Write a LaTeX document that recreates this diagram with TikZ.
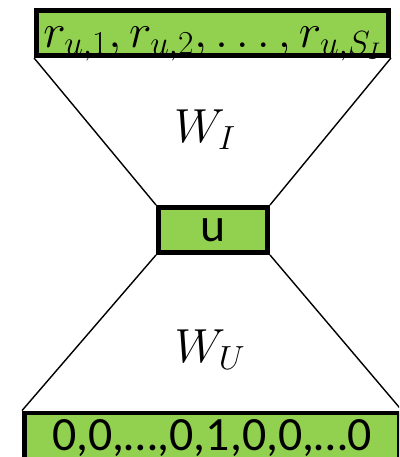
\RequirePackage{fix-cm}
\documentclass[tikz,border=0pt]{standalone}
\usepackage{amsmath,amssymb}
\usepackage{fontspec}
\newfontfamily\calibri{Carlito}
\usetikzlibrary{positioning}
\definecolor{layerGreen}{RGB}{146,208,80}

\begin{document}
\begin{tikzpicture}[x=0.025cm,y=-0.025cm,
    layer/.style={draw=black,fill=layerGreen,line width=3.5pt,inner sep=0pt},
    funnel/.style={line width=1pt,black},
    big/.style={font=\fontsize{34}{36}\selectfont}]
  \useasboundingbox (0,0) rectangle (399,457);
  \clip (0,0) rectangle (399,457);
  % layers
  \node[layer,big,minimum width=352*0.025cm,minimum height=45*0.025cm] (ratings) at (212.5,33)
    {\raisebox{-10pt}[0pt][0pt]{$r_{u,1},r_{u,2},\ldots,r_{u,S_I}$}};
  \node[layer,big,minimum width=109*0.025cm,minimum height=45*0.025cm] (user) at (213,230)
    {\calibri u};
  \node[layer,big,minimum width=375*0.025cm,minimum height=50*0.025cm] (onehot) at (212,438)
    {\calibri 0,0,\dots,0,1,0,0,\dots0};
  % funnels
  \draw[funnel] (ratings.south west) -- (user.north west);
  \draw[funnel] (ratings.south east) -- (user.north east);
  \draw[funnel] (user.south west) -- (onehot.north west);
  \draw[funnel] (user.south east) -- (onehot.north east);
  % weights
  \node[big] (wi) at (205,130) {$W_I$};
  \node[big] (wu) at (210,350) {$W_U$};
\end{tikzpicture}
\end{document}
